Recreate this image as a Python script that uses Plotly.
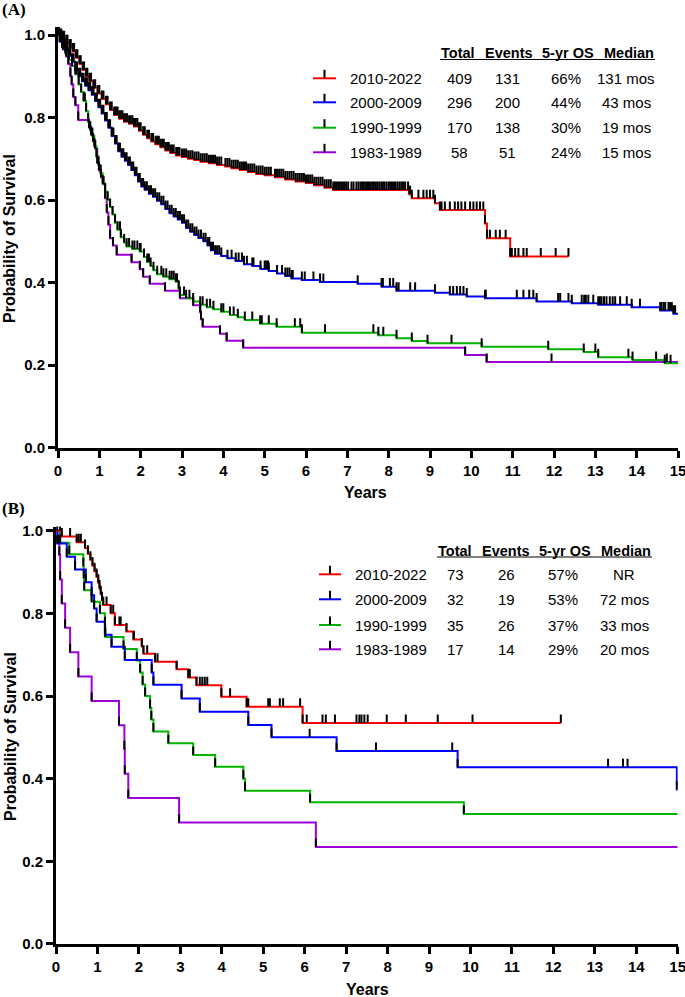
import plotly.graph_objects as go

# ---------------- DATA ----------------
groups = ["2010-2022", "2000-2009", "1990-1999", "1983-1989"]
years_ticks = list(range(0, 16))
prob_ticks = [0.0, 0.2, 0.4, 0.6, 0.8, 1.0]
prob_ticktext = ["0.0", "0.2", "0.4", "0.6", "0.8", "1.0"]

headers = ["Total", "Events", "5-yr OS", "Median"]

# Panel A table
a_total = ["409", "296", "170", "58"]
a_events = ["131", "200", "138", "51"]
a_os5 = ["66%", "44%", "30%", "24%"]
a_median = ["131 mos", "43 mos", "19 mos", "15 mos"]

# Panel B table
b_total = ["73", "32", "35", "17"]
b_events = ["26", "19", "26", "14"]
b_os5 = ["57%", "53%", "37%", "29%"]
b_median = ["NR", "72 mos", "33 mos", "20 mos"]

# ---- Panel A: event times (years) and survival after event ----
redA_t = [0.05, 0.12, 0.2, 0.28, 0.36, 0.44, 0.52, 0.6, 0.68, 0.76, 0.86, 0.96, 1.06, 1.16, 1.26, 1.36, 1.48, 1.6, 1.72, 1.84,
          1.96, 2.06, 2.16, 2.26, 2.36, 2.48, 2.6, 2.72, 2.86, 3.0, 3.15, 3.3, 3.45, 3.65, 3.85, 4.05, 4.2, 4.4, 4.6, 4.8,
          5.0, 5.25, 5.5, 5.75, 6.0, 6.2, 6.45, 6.66, 8.5, 8.56, 9.12, 9.24, 10.33, 10.38, 10.94]
redA_s = [0.995, 0.99, 0.98, 0.97, 0.96, 0.945, 0.93, 0.915, 0.9, 0.888, 0.872, 0.858, 0.845, 0.832, 0.818, 0.806, 0.797, 0.79, 0.785, 0.778,
          0.768, 0.758, 0.75, 0.742, 0.735, 0.728, 0.72, 0.714, 0.708, 0.704, 0.7, 0.697, 0.693, 0.689, 0.685, 0.681, 0.677, 0.673, 0.668, 0.663,
          0.66, 0.655, 0.65, 0.645, 0.641, 0.636, 0.63, 0.624, 0.614, 0.604, 0.592, 0.576, 0.543, 0.507, 0.463]
redA_cens = [0.02, 0.08, 0.15, 0.23, 0.31, 0.39, 0.47, 0.55, 0.63, 0.71, 0.8, 0.9, 1.0, 1.1, 1.2, 1.3, 1.4, 1.44, 1.52, 1.56,
             1.64, 1.67, 1.76, 1.8, 1.88, 1.92, 2.0, 2.1, 2.2, 2.3, 2.4, 2.44, 2.52, 2.56, 2.64, 2.68, 2.76, 2.8, 2.9, 2.94,
             3.05, 3.1, 3.2, 3.25, 3.35, 3.4, 3.5, 3.55, 3.6, 3.7, 3.75, 3.8, 3.9, 3.95, 4.1, 4.15, 4.25, 4.3, 4.35, 4.45,
             4.5, 4.55, 4.65, 4.7, 4.75, 4.85, 4.9, 4.95, 5.05, 5.1, 5.15, 5.3, 5.35, 5.4, 5.45, 5.55, 5.6, 5.65, 5.7, 5.8,
             5.85, 5.9, 5.95, 6.05, 6.1, 6.15, 6.25, 6.3, 6.35, 6.4, 6.5, 6.55, 6.6, 6.7, 6.74, 6.78, 6.82, 6.87, 6.92, 6.97,
             7.02, 7.1, 7.15, 7.22, 7.27, 7.32, 7.36, 7.4, 7.45, 7.5, 7.55, 7.6, 7.64, 7.68, 7.72, 7.77, 7.82, 7.86, 7.9, 7.95,
             8.0, 8.04, 8.08, 8.13, 8.17, 8.22, 8.27, 8.32, 8.36, 8.4, 8.47, 8.52, 8.72, 8.84, 8.92, 9.0, 9.08, 9.28, 9.36, 9.48,
             9.6, 9.68, 9.76, 9.85, 9.97, 10.05, 10.13, 10.21, 10.29, 10.45, 10.59, 10.69, 10.83, 10.98, 11.06, 11.14, 11.26, 11.34,
             11.68, 12.04, 12.35]
redA_end = 12.35

blueA_t = [0.04, 0.1, 0.18, 0.26, 0.34, 0.42, 0.5, 0.58, 0.66, 0.74, 0.82, 0.9, 0.98, 1.06, 1.14, 1.22, 1.3, 1.38, 1.46, 1.54,
           1.62, 1.7, 1.78, 1.86, 1.94, 2.02, 2.1, 2.2, 2.3, 2.4, 2.5, 2.6, 2.7, 2.8, 2.9, 3.0, 3.1, 3.2, 3.3, 3.4,
           3.52, 3.62, 3.7, 3.8, 3.95, 4.1, 4.3, 4.5, 4.7, 4.9, 5.1, 5.3, 5.5, 5.65, 5.9, 6.34, 7.25, 7.83, 8.19, 9.12,
           9.48, 9.89, 10.33, 11.58, 12.43, 13.07, 13.88, 14.57, 14.89]
blueA_s = [0.985, 0.975, 0.962, 0.95, 0.935, 0.915, 0.9, 0.888, 0.877, 0.866, 0.855, 0.84, 0.825, 0.81, 0.793, 0.775, 0.755, 0.737, 0.718, 0.705,
           0.695, 0.685, 0.673, 0.66, 0.645, 0.633, 0.625, 0.615, 0.608, 0.598, 0.59, 0.578, 0.568, 0.56, 0.553, 0.545, 0.532, 0.523, 0.515, 0.508,
           0.5, 0.49, 0.478, 0.47, 0.464, 0.459, 0.452, 0.444, 0.44, 0.433, 0.428, 0.422, 0.416, 0.41, 0.406, 0.401, 0.397, 0.39, 0.38, 0.375,
           0.371, 0.366, 0.362, 0.354, 0.35, 0.346, 0.34, 0.332, 0.324]
blueA_cens = [0.07, 0.14, 0.22, 0.3, 0.38, 0.46, 0.54, 0.62, 0.7, 0.78, 0.86, 0.94, 1.02, 1.1, 1.18, 1.26, 1.34, 1.42, 1.5, 1.58,
              1.66, 1.74, 1.82, 1.9, 1.98, 2.06, 2.15, 2.25, 2.35, 2.45, 2.55, 2.65, 2.75, 2.85, 2.95, 3.05, 3.15, 3.25, 3.35, 3.46,
              3.57, 3.66, 3.75, 3.85, 3.9, 4.2, 4.37, 4.45, 4.57, 4.73, 5.0, 5.04, 5.08, 5.42, 5.55, 5.6, 5.68, 5.97, 6.18, 6.42,
              7.86, 8.03, 8.11, 8.24, 8.52, 8.64, 9.56, 9.65, 9.73, 9.81, 10.35, 11.1, 11.26, 11.4, 11.5, 12.1, 12.15, 12.35, 12.67, 12.73,
              12.77, 12.83, 12.95, 13.11, 13.15, 13.21, 13.27, 13.35, 13.42, 13.48, 13.6, 13.76, 14.08, 14.6, 14.65, 14.69, 14.77, 14.81,
              14.85, 14.93]
blueA_end = 15.0

greenA_t = [0.05, 0.1, 0.18, 0.26, 0.34, 0.42, 0.5, 0.56, 0.62, 0.68, 0.73, 0.78, 0.83, 0.88, 0.93, 0.98, 1.03, 1.08, 1.14, 1.2,
            1.26, 1.32, 1.38, 1.44, 1.52, 1.6, 1.66, 1.8, 1.98, 2.08, 2.16, 2.24, 2.31, 2.4, 2.55, 2.7, 2.85, 2.92, 2.95, 3.1,
            3.27, 3.44, 3.6, 3.76, 3.95, 4.16, 4.35, 4.52, 4.89, 5.29, 5.9, 7.75, 8.19, 8.56, 8.94, 10.25, 11.86, 12.72, 13.07, 13.9,
            14.68]
greenA_s = [0.985, 0.97, 0.955, 0.94, 0.925, 0.905, 0.88, 0.862, 0.84, 0.815, 0.79, 0.77, 0.755, 0.73, 0.705, 0.685, 0.665, 0.64, 0.62, 0.6,
            0.583, 0.565, 0.545, 0.528, 0.51, 0.497, 0.487, 0.481, 0.475, 0.462, 0.45, 0.44, 0.43, 0.42, 0.414, 0.408, 0.402, 0.385, 0.37, 0.362,
            0.354, 0.346, 0.34, 0.335, 0.329, 0.321, 0.316, 0.309, 0.3, 0.293, 0.278, 0.272, 0.265, 0.258, 0.2525, 0.2444, 0.238, 0.2315, 0.2186, 0.212,
            0.204]
greenA_cens = [0.15, 0.45, 0.65, 1.5, 1.72, 1.85, 1.92, 2.0, 2.2, 2.5, 2.62, 2.75, 2.8, 2.88, 3.05, 3.18, 3.5, 3.68, 4.0, 4.25,
               4.7, 4.93, 5.1, 5.73, 5.86, 6.46, 7.63, 7.87, 9.52, 13.0, 13.8, 14.47, 14.82]
greenA_end = 15.0

purpleA_t = [0.06, 0.12, 0.2, 0.25, 0.3, 0.33, 0.37, 0.42, 0.49, 0.75, 0.8, 0.85, 0.9, 0.95, 0.99, 1.04, 1.1, 1.14, 1.18, 1.22,
             1.26, 1.33, 1.42, 1.78, 1.98, 2.06, 2.22, 2.59, 2.95, 3.27, 3.44, 3.46, 3.5, 3.92, 4.08, 4.48, 9.85, 10.37]
purpleA_s = [0.983, 0.965, 0.948, 0.93, 0.9, 0.88, 0.85, 0.83, 0.794, 0.776, 0.758, 0.742, 0.725, 0.69, 0.672, 0.655, 0.638, 0.604, 0.57, 0.54,
             0.507, 0.49, 0.467, 0.449, 0.432, 0.414, 0.397, 0.38, 0.362, 0.345, 0.328, 0.311, 0.293, 0.276, 0.259, 0.242, 0.224, 0.207]
purpleA_cens = [11.94, 14.73]
purpleA_end = 15.0

# ---- Panel B ----
redB_t = [0.14, 0.5, 0.7, 0.77, 0.83, 0.88, 0.93, 0.98, 1.02, 1.05, 1.08, 1.11, 1.14, 1.32, 1.42, 1.7, 1.87, 2.07, 2.11, 2.39,
          2.91, 3.19, 3.39, 3.99, 4.6, 5.95]
redB_s = [0.986, 0.972, 0.958, 0.944, 0.93, 0.916, 0.902, 0.888, 0.874, 0.86, 0.846, 0.832, 0.82, 0.8, 0.772, 0.756, 0.737, 0.72, 0.702, 0.683,
          0.665, 0.645, 0.626, 0.598, 0.574, 0.535]
redB_cens = [0.03, 0.1, 0.34, 0.55, 0.6, 1.22, 1.38, 1.53, 1.56, 1.88, 2.2, 2.45, 3.23, 3.47, 3.53, 3.59, 3.65, 4.2, 4.64, 5.12,
             5.16, 5.4, 5.48, 5.89, 6.05, 6.43, 6.51, 6.73, 7.25, 7.32, 7.37, 7.44, 7.52, 7.98, 8.44, 9.21, 10.05, 12.18]
redB_end = 12.18

blueB_t = [0.03, 0.26, 0.46, 0.72, 0.86, 0.92, 0.98, 1.18, 1.34, 1.66, 2.31, 2.35, 3.03, 3.47, 4.64, 5.2, 6.77, 9.69, 14.98]
blueB_s = [0.969, 0.937, 0.906, 0.875, 0.844, 0.812, 0.78, 0.748, 0.719, 0.687, 0.657, 0.627, 0.594, 0.562, 0.53, 0.5, 0.467, 0.4275, 0.374]
blueB_cens = [0.06, 6.12, 7.72, 9.56, 13.32, 13.68, 13.79]
blueB_end = 15.0

greenB_t = [0.1, 0.32, 0.66, 0.67, 0.68, 0.86, 1.06, 1.18, 1.19, 1.63, 1.95, 2.03, 2.09, 2.15, 2.27, 2.3, 2.35, 2.71, 3.31, 3.84,
            4.52, 4.56, 6.13, 9.84]
greenB_s = [0.971, 0.943, 0.914, 0.885, 0.856, 0.828, 0.8, 0.771, 0.743, 0.714, 0.686, 0.657, 0.628, 0.6, 0.571, 0.543, 0.514, 0.486, 0.457, 0.429,
            0.4, 0.371, 0.343, 0.3145]
greenB_cens = []
greenB_end = 15.0

purpleB_t = [0.08, 0.1, 0.14, 0.22, 0.34, 0.54, 0.86, 1.52, 1.65, 1.66, 1.745, 2.97, 6.27]
purpleB_s = [0.941, 0.882, 0.824, 0.765, 0.706, 0.647, 0.588, 0.529, 0.471, 0.412, 0.353, 0.294, 0.235]
purpleB_cens = []
purpleB_end = 15.0

colors = ["#FF0000", "#0000FF", "#00B400", "#A000D8"]

# ---------------- LAYOUT HELPERS ----------------
W, H = 685, 997
def fx(p):
    return p / W
def fy(p):
    return 1 - p / H

FONT = "Liberation Sans, Arial, sans-serif"
SERIF = "Liberation Serif, Times New Roman, serif"

def surv_at(t, ts, ss):
    s = 1.0
    for et, es in zip(ts, ss):
        if et <= t:
            s = es
        else:
            break
    return s

panels = [
    dict(xa="x", ya="y", x0=58, x1=678, y0=447.5, unit=412.5, ymax=1.02,
         series=[(redA_t, redA_s, redA_cens, redA_end), (blueA_t, blueA_s, blueA_cens, blueA_end),
                 (greenA_t, greenA_s, greenA_cens, greenA_end), (purpleA_t, purpleA_s, purpleA_cens, purpleA_end)]),
    dict(xa="x2", ya="y2", x0=56, x1=677.7, y0=944, unit=413.3, ymax=1.01,
         series=[(redB_t, redB_s, redB_cens, redB_end), (blueB_t, blueB_s, blueB_cens, blueB_end),
                 (greenB_t, greenB_s, greenB_cens, greenB_end), (purpleB_t, purpleB_s, purpleB_cens, purpleB_end)]),
]

fig = go.Figure()
TICK_PX = 8.5

for p in panels:
    h = TICK_PX / p["unit"]
    for i in [3, 2, 1, 0]:
        ts, ss, cens, end = p["series"][i]
        xs = [0.0] + list(ts) + [end]
        ys = [1.0] + list(ss) + [ss[-1]]
        fig.add_trace(go.Scatter(x=xs, y=ys, mode="lines", xaxis=p["xa"], yaxis=p["ya"],
                                 line=dict(color=colors[i], width=2, shape="hv"), hoverinfo="skip"))
    for i in [3, 2, 1, 0]:
        ts, ss, cens, end = p["series"][i]
        tx, ty = [], []
        for et, es in zip(ts, ss):
            tx += [et, et, None]
            ty += [es, es + h, None]
        for c in cens:
            sc = surv_at(c, ts, ss)
            tx += [c, c, None]
            ty += [sc, sc + h, None]
        fig.add_trace(go.Scatter(x=tx, y=ty, mode="lines", xaxis=p["xa"], yaxis=p["ya"],
                                 line=dict(color="black", width=2), hoverinfo="skip", cliponaxis=False))

axis_common = dict(showline=True, linecolor="black", linewidth=3, ticks="outside", ticklen=7, tickwidth=3,
                   tickcolor="black", showgrid=False, zeroline=False, ticklabeloverflow="allow",
                   tickfont=dict(family=FONT, size=15, color="black", weight="bold"))

layout = dict(width=W, height=H, margin=dict(l=0, r=0, t=0, b=0), template="none",
              paper_bgcolor="white", plot_bgcolor="white", showlegend=False,
              font=dict(family=FONT, color="black"))
for k, p in enumerate(panels):
    sx = "" if k == 0 else "2"
    layout["xaxis" + sx] = dict(domain=[fx(p["x0"]), fx(p["x1"])], range=[0, 15], anchor="y" + sx,
                                tickvals=years_ticks, ticktext=[str(v) for v in years_ticks], **axis_common)
    layout["yaxis" + sx] = dict(domain=[fy(p["y0"]), fy(p["y0"] - p["ymax"] * p["unit"])], range=[0, p["ymax"]],
                                anchor="x" + sx, tickvals=prob_ticks, ticktext=prob_ticktext, **axis_common)
fig.update_layout(**layout)

annotations = []
shapes = []

def txt(x, y, s, size=15, bold=False, anchor="center", family=FONT, angle=0):
    annotations.append(dict(x=fx(x), y=fy(y), xref="paper", yref="paper", text=s, showarrow=False,
                            xanchor=anchor, yanchor="middle", textangle=angle,
                            font=dict(family=family, size=size, color="black", weight="bold" if bold else "normal")))

txt(0, 9, "(A)", size=17, bold=True, anchor="left", family=SERIF)
txt(0, 508.5, "(B)", size=17, bold=True, anchor="left", family=SERIF)

txt(10, 239, "Probability of Survival", size=16, bold=True, angle=-90)
txt(10, 737, "Probability of Survival", size=16, bold=True, angle=-90)
txt(366, 493, "Years", size=16, bold=True)
txt(367, 989, "Years", size=16, bold=True)

tables = [
    dict(head_y=53, ul_y=59.5, ul_x=(440, 655), head_x=[457.5, 508.5, 568, 629], rows_y=[78.3, 102.3, 127.7, 152.3],
         leg_x=(313, 336), lab_x=348, col_x=[459, 507, 566, 626], cols=[a_total, a_events, a_os5, a_median]),
    dict(head_y=550.7, ul_y=557, ul_x=(437, 652), head_x=[454.5, 506, 565, 626], rows_y=[574.3, 599.3, 625, 649.3],
         leg_x=(319, 341), lab_x=353, col_x=[455, 506, 563, 624], cols=[b_total, b_events, b_os5, b_median]),
]
for tb in tables:
    for hx, hs in zip(tb["head_x"], headers):
        txt(hx, tb["head_y"], hs, size=14.5, bold=True)
    shapes.append(dict(type="line", xref="paper", yref="paper", x0=fx(tb["ul_x"][0]), x1=fx(tb["ul_x"][1]),
                       y0=fy(tb["ul_y"]), y1=fy(tb["ul_y"]), line=dict(color="black", width=1.2)))
    for r, ry in enumerate(tb["rows_y"]):
        lx0, lx1 = tb["leg_x"]
        shapes.append(dict(type="line", xref="paper", yref="paper", x0=fx(lx0), x1=fx(lx1), y0=fy(ry), y1=fy(ry),
                           line=dict(color=colors[r], width=2)))
        cx = (lx0 + lx1) / 2
        shapes.append(dict(type="line", xref="paper", yref="paper", x0=fx(cx), x1=fx(cx), y0=fy(ry), y1=fy(ry - 8.5),
                           line=dict(color="black", width=2)))
        txt(tb["lab_x"], ry, groups[r], size=15, anchor="left")
        for cxv, col in zip(tb["col_x"], tb["cols"]):
            txt(cxv, ry, col[r], size=15)

fig.update_layout(annotations=annotations, shapes=shapes)
fig.write_html("out.html", config={"displayModeBar": False},
               post_script="document.body.style.margin='0';document.body.style.padding='0';")
